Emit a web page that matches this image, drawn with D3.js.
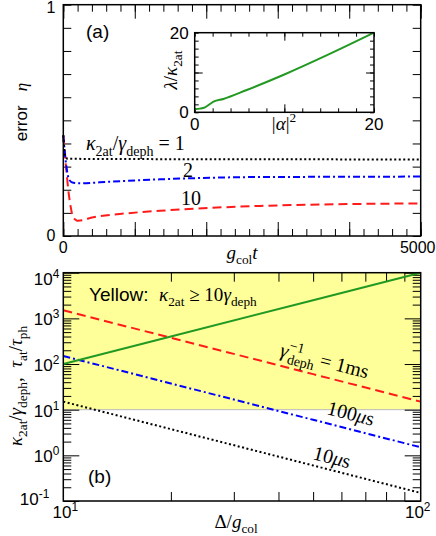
<!DOCTYPE html>
<html>
<head>
<meta charset="utf-8">
<script src="https://cdn.jsdelivr.net/npm/d3@7"></script>
<style>
  body { margin: 0; background: #fff; }
  text { white-space: pre; }
</style>
</head>
<body>
<div id="chart"></div>
<script>
const SANS = "'Liberation Sans', Arial, sans-serif";
const SERIF = "'Liberation Serif', 'Times New Roman', serif";

// ---- panel (a): error eta vs g_col t ----
const aTicksX = [0, 5000];
const aTicksY = [0, 1];
const tDotted = [0, 25, 60, 500, 2000, 5000];
const etaDotted = [0.435, 0.35, 0.334, 0.333, 0.332, 0.331];
const tDashDot = [0, 38, 84, 140, 233, 653, 1352, 2752, 4000, 5000];
const etaDashDot = [0.435, 0.314, 0.242, 0.230, 0.228, 0.235, 0.245, 0.255, 0.256, 0.257];
const tDashed = [0, 38, 70, 103, 131, 178, 210, 420, 886, 1352, 1818, 2752, 3777, 5000];
const etaDashed = [0.435, 0.30, 0.199, 0.127, 0.086, 0.069, 0.066, 0.081, 0.098, 0.109, 0.118, 0.130, 0.137, 0.141];

// inset: lambda / kappa_2at vs |alpha|^2
const insetTicks = [0, 20];
const alpha2 = [0, 0.6, 1.15, 1.7, 2.1, 3.2, 5.8, 10, 15, 20];
const lambdaK = [0.75, 0.92, 1.26, 2.09, 2.68, 3.35, 5.6, 9.5, 14.6, 20];

// ---- panel (b): ratios vs Delta / g_col ----
const bTicksX = [10, 100];
const bTicksY = [0.1, 1, 10, 100, 1000, 10000];
const detuning = [10, 20, 50, 100];
const kappaRatio = [100, 400, 2500, 10000];
const ratio1ms = [1500, 375, 60, 15];
const ratio100us = [150, 37.5, 6, 1.5];
const ratio10us = [15, 3.75, 0.6, 0.15];
const yellowBand = [10, 10000];

const svg = d3.select("#chart").append("svg")
    .attr("width", 436)
    .attr("height", 536)
    .style("font-family", SANS);

function mtext(g, x, y, parts, opt) {
    opt = opt || {};
    const fs = opt.size || 16;
    const t = g.append("text")
        .attr("x", x).attr("y", y)
        .attr("text-anchor", opt.anchor || "start")
        .attr("font-size", fs);
    if (opt.rotate != null) t.attr("transform", `rotate(${opt.rotate},${x},${y})`);
    let cur = 0;
    parts.forEach(p => {
        if (typeof p === "string") p = {s: p};
        const off = p.sub ? fs * 0.28 : p.sup ? -fs * 0.42 : 0;
        const ts = t.append("tspan")
            .attr("dy", off - cur)
            .attr("font-size", (p.sub || p.sup) ? fs * 0.7 : fs)
            .attr("font-family", p.sans ? SANS : SERIF)
            .attr("font-style", p.it ? "italic" : "normal")
            .text(p.s);
        if (p.dx) ts.attr("dx", p.dx);
        cur = off;
    });
    return t;
}

function ticks(g, axisFn, scale, values, len, tr) {
    g.append("g").attr("transform", tr)
        .call(axisFn(scale).tickValues(values).tickSize(-len).tickFormat(""))
        .call(s => s.select(".domain").remove())
        .selectAll("line").attr("stroke", "#000").attr("stroke-width", 1);
}

function frame(g, x0, y0, x1, y1) {
    g.append("rect").attr("x", x0).attr("y", y0)
        .attr("width", x1 - x0).attr("height", y1 - y0)
        .attr("fill", "none").attr("stroke", "#000").attr("stroke-width", 1.5);
}

// ================= panel (a) =================
const xa = d3.scaleLinear().domain([0, 5000]).range([63.3, 420.7]);
const ya = d3.scaleLinear().domain([0, 1]).range([236, 4.7]);
const ga = svg.append("g");

const aMinorX = d3.range(0, 5001, 200);
const aMajorX = d3.range(0, 5001, 1000);
const aY = d3.range(0, 1.001, 0.1);
ticks(ga, d3.axisBottom, xa, aMinorX, 7, `translate(0,${ya(0)})`);
ticks(ga, d3.axisBottom, xa, aMajorX, 14, `translate(0,${ya(0)})`);
ticks(ga, d3.axisTop, xa, aMinorX, 7, `translate(0,${ya(1)})`);
ticks(ga, d3.axisTop, xa, aMajorX, 14, `translate(0,${ya(1)})`);
ticks(ga, d3.axisLeft, ya, aY, 8, `translate(${xa(0)},0)`);
ticks(ga, d3.axisRight, ya, aY, 8, `translate(${xa(5000)},0)`);

const lineA = d3.line().x(d => xa(d[0])).y(d => ya(d[1])).curve(d3.curveMonotoneX);
ga.append("path").datum(d3.zip(tDashed, etaDashed)).attr("d", lineA)
    .attr("fill", "none").attr("stroke", "#ff1a1a").attr("stroke-width", 2).attr("stroke-dasharray", "9,5");
ga.append("path").datum(d3.zip(tDashDot, etaDashDot)).attr("d", lineA)
    .attr("fill", "none").attr("stroke", "#0000ff").attr("stroke-width", 2).attr("stroke-dasharray", "7,3,2,3");
ga.append("path").datum(d3.zip(tDotted, etaDotted)).attr("d", lineA)
    .attr("fill", "none").attr("stroke", "#000").attr("stroke-width", 2).attr("stroke-dasharray", "2,2.5");
frame(ga, xa(0), ya(1), xa(5000), ya(0));

// tick labels
ga.selectAll(".yl").data(aTicksY).enter().append("text")
    .attr("x", xa(0) - 8).attr("y", d => ya(d) + 5 + (d === 1 ? 3 : 0))
    .attr("text-anchor", "end").attr("font-size", 16).text(d => d);
ga.selectAll(".xl").data(aTicksX).enter().append("text")
    .attr("x", d => xa(d) - (d === 5000 ? 3 : 0)).attr("y", 253)
    .attr("text-anchor", "middle").attr("font-size", 16).text(d => d);

mtext(ga, 242, 259, [{s: "g", it: true}, {s: "col", sub: true}, {s: "t", it: true}], {anchor: "middle", size: 19});
mtext(ga, 27, 112, [{s: "error   ", sans: true}, {s: "η", it: true}], {anchor: "middle", size: 17, rotate: -90});
mtext(ga, 86, 38, [{s: "(a)", sans: true}], {size: 19});

mtext(ga, 86, 150, [{s: "κ", it: true}, {s: "2at", sub: true}, {s: "/"}, {s: "γ", it: true}, {s: "deph", sub: true}, {s: " = 1"}], {size: 20});
mtext(ga, 183, 177, [{s: "2"}], {size: 20});
mtext(ga, 181, 205, [{s: "10"}], {size: 20});

// inset
const xi = d3.scaleLinear().domain([0, 20]).range([194.7, 374]);
const yi = d3.scaleLinear().domain([0, 20]).range([112.3, 32.7]);
const gi = svg.append("g");
gi.append("rect").attr("x", xi(0)).attr("y", yi(20)).attr("width", xi(20) - xi(0))
    .attr("height", yi(0) - yi(20)).attr("fill", "#fff");
const iMinor = d3.range(0, 20.01, 2);
ticks(gi, d3.axisBottom, xi, iMinor, 4, `translate(0,${yi(0)})`);
ticks(gi, d3.axisBottom, xi, [10], 8, `translate(0,${yi(0)})`);
ticks(gi, d3.axisTop, xi, iMinor, 4, `translate(0,${yi(20)})`);
ticks(gi, d3.axisTop, xi, [10], 8, `translate(0,${yi(20)})`);
ticks(gi, d3.axisLeft, yi, iMinor, 4, `translate(${xi(0)},0)`);
ticks(gi, d3.axisLeft, yi, [10], 8, `translate(${xi(0)},0)`);
ticks(gi, d3.axisRight, yi, iMinor, 4, `translate(${xi(20)},0)`);
ticks(gi, d3.axisRight, yi, [10], 8, `translate(${xi(20)},0)`);
gi.append("path").datum(d3.zip(alpha2, lambdaK))
    .attr("d", d3.line().x(d => xi(d[0])).y(d => yi(d[1])).curve(d3.curveMonotoneX))
    .attr("fill", "none").attr("stroke", "#229922").attr("stroke-width", 2);
frame(gi, xi(0), yi(20), xi(20), yi(0));
gi.selectAll(".iy").data(insetTicks).enter().append("text")
    .attr("x", xi(0) - 6).attr("y", d => yi(d) + 6)
    .attr("text-anchor", "end").attr("font-size", 17).text(d => d);
gi.selectAll(".ix").data(insetTicks).enter().append("text")
    .attr("x", d => xi(d)).attr("y", 130)
    .attr("text-anchor", "middle").attr("font-size", 17).text(d => d);
mtext(gi, 284, 130, [{s: "|"}, {s: "α", it: true}, {s: "|"}, {s: "2", sup: true}], {anchor: "middle", size: 19});
mtext(gi, 177, 70, [{s: "λ", it: true}, {s: "/"}, {s: "κ", it: true}, {s: "2at", sub: true}], {anchor: "middle", size: 19, rotate: -90});

// ================= panel (b) =================
const xb = d3.scaleLog().domain([10, 100]).range([63.3, 420.7]);
const yb = d3.scaleLog().domain([0.1, 10000]).range([501, 272.7]);
const gb = svg.append("g");

gb.append("rect")
    .attr("x", xb(10)).attr("y", yb(yellowBand[1]))
    .attr("width", xb(100) - xb(10)).attr("height", yb(yellowBand[0]) - yb(yellowBand[1]))
    .attr("fill", "#ffff99");
gb.append("line").attr("x1", xb(10)).attr("x2", xb(100))
    .attr("y1", yb(yellowBand[0])).attr("y2", yb(yellowBand[0]))
    .attr("stroke", "#bbb").attr("stroke-width", 1);

const bMinorX = [2, 3, 4, 5, 6, 7, 8, 9].map(k => k * 10);
const bMinorY = bTicksY.slice(0, -1).flatMap(d => [2, 3, 4, 5, 6, 7, 8, 9].map(k => k * d));
ticks(gb, d3.axisBottom, xb, bMinorX, 9, `translate(0,${yb(0.1)})`);
ticks(gb, d3.axisTop, xb, bMinorX, 9, `translate(0,${yb(10000)})`);
ticks(gb, d3.axisLeft, yb, bMinorY, 8, `translate(${xb(10)},0)`);
ticks(gb, d3.axisLeft, yb, bTicksY, 16, `translate(${xb(10)},0)`);
ticks(gb, d3.axisRight, yb, bMinorY, 8, `translate(${xb(100)},0)`);
ticks(gb, d3.axisRight, yb, bTicksY, 16, `translate(${xb(100)},0)`);

const lineB = d3.line().x(d => xb(d[0])).y(d => yb(d[1]));
gb.append("path").datum(d3.zip(detuning, ratio10us)).attr("d", lineB)
    .attr("fill", "none").attr("stroke", "#000").attr("stroke-width", 2).attr("stroke-dasharray", "2,2.5");
gb.append("path").datum(d3.zip(detuning, ratio100us)).attr("d", lineB)
    .attr("fill", "none").attr("stroke", "#0000ff").attr("stroke-width", 2).attr("stroke-dasharray", "7,3,2,3");
gb.append("path").datum(d3.zip(detuning, ratio1ms)).attr("d", lineB)
    .attr("fill", "none").attr("stroke", "#ff1a1a").attr("stroke-width", 2).attr("stroke-dasharray", "9,5");
gb.append("path").datum(d3.zip(detuning, kappaRatio)).attr("d", lineB)
    .attr("fill", "none").attr("stroke", "#229922").attr("stroke-width", 2);
frame(gb, xb(10), yb(10000), xb(100), yb(0.1));

// tick labels
bTicksY.forEach(d => {
    const e = Math.round(Math.log10(d));
    const last = e === -1;
    mtext(gb, xb(10) - (last ? 14 : 4), yb(d) + (e === 4 ? 12 : last ? 4 : 7),
        [{s: "10", sans: true}, {s: String(e), sup: true, sans: true}], {anchor: "end", size: 17});
});
bTicksX.forEach(d => {
    const e = Math.round(Math.log10(d));
    mtext(gb, xb(d) + (e === 2 ? -3 : 2), 518,
        [{s: "10", sans: true}, {s: String(e), sup: true, sans: true}], {anchor: "middle", size: 17});
});

mtext(gb, 236, 528, [{s: "Δ"}, {s: "/"}, {s: "g", it: true}, {s: "col", sub: true}], {anchor: "middle", size: 19});
mtext(gb, 22, 386, [{s: "κ", it: true}, {s: "2at", sub: true}, {s: "/"}, {s: "γ", it: true}, {s: "deph", sub: true},
    {s: ",  "}, {s: "τ", it: true}, {s: "at", sub: true}, {s: "/"}, {s: "τ", it: true}, {s: "ph", sub: true}],
    {anchor: "middle", size: 19, rotate: -90});
mtext(gb, 88, 483, [{s: "(b)", sans: true}], {size: 19});
mtext(gb, 89, 301, [{s: "Yellow:  ", sans: true}, {s: "κ", it: true}, {s: "2at", sub: true}, {s: " ≥ 10"},
    {s: "γ", it: true}, {s: "deph", sub: true}], {size: 19});

const ang = Math.atan2(yb(ratio1ms[3]) - yb(ratio1ms[0]), xb(100) - xb(10)) * 180 / Math.PI;
mtext(gb, 279, 356, [{s: "γ", it: true}, {s: "−1", sup: true}, {s: "deph", sub: true, dx: -14}, {s: " = 1ms"}],
    {size: 20, rotate: ang});
mtext(gb, 326, 414, [{s: "100"}, {s: "μ", it: true}, {s: "s"}], {size: 20, rotate: ang});
mtext(gb, 312, 459, [{s: "10"}, {s: "μ", it: true}, {s: "s"}], {size: 20, rotate: ang});
</script>
</body>
</html>
